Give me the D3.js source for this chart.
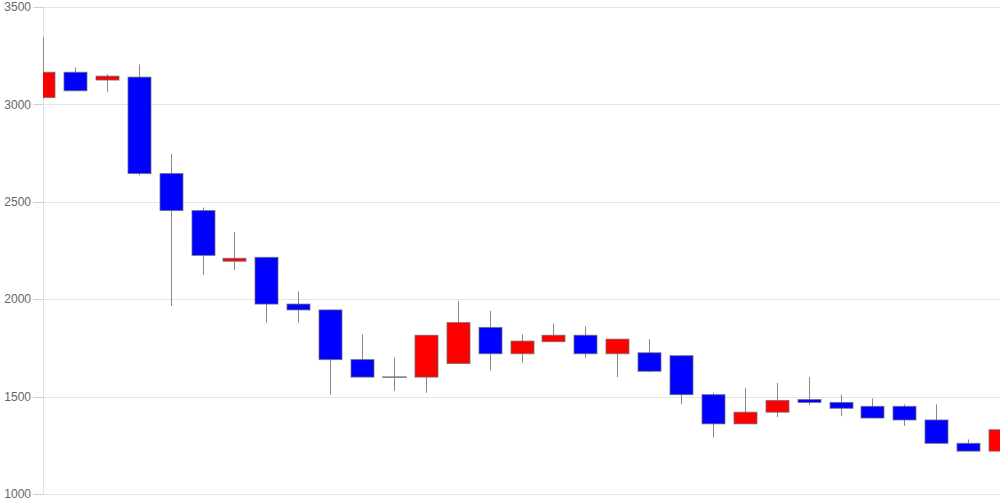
<!DOCTYPE html>
<html><head><meta charset="utf-8">
<script src="https://cdn.jsdelivr.net/npm/d3@7"></script>
<style>body{margin:0;background:#fff}svg{display:block}</style>
</head><body>
<svg id="c" width="1000" height="500"></svg>
<script>
const opens  = [3035,3165,3125,3140,2645,2455,2195,2215,1975,1945,1690,1600,1600,1670,1855,1720,1782,1815,1720,1725,1710,1510,1360,1420,1485,1470,1450,1450,1380,1260,1220];
const closes = [3165,3070,3145,2645,2455,2225,2210,1975,1945,1690,1600,1600,1815,1880,1720,1785,1815,1720,1795,1630,1510,1360,1420,1480,1470,1440,1390,1380,1260,1220,1330];
const highs  = [3345,3190,3155,3205,2745,2470,2345,2215,2040,1945,1820,1700,1815,1990,1940,1820,1875,1860,1795,1795,1710,1520,1545,1570,1600,1510,1490,1460,1460,1280,1350];
const lows   = [3030,3070,3065,2635,1965,2125,2150,1880,1880,1510,1600,1530,1520,1670,1635,1675,1780,1700,1600,1625,1460,1290,1360,1395,1455,1400,1390,1350,1260,1220,1220];
const yTicks = [1000,1500,2000,2500,3000,3500];

(function () {
const idx = d3.range(opens.length);
const svg = d3.select("#c");
const mL = 43, mR = 1000, mT = 7, mB = 494;
const x = d3.scalePoint().domain(idx).range([mL, mR]);
const y = d3.scaleLinear().domain([1000, 3500]).range([mB, mT]);

svg.append("g").selectAll("line").data(yTicks).join("line")
  .attr("x1", 33).attr("x2", mR).attr("y1", d => Math.round(y(d)) + 0.5).attr("y2", d => Math.round(y(d)) + 0.5)
  .attr("stroke", "#e6e6e6");
svg.append("g").selectAll("line").data(yTicks).join("line")
  .attr("x1", 33).attr("x2", mL).attr("y1", d => Math.round(y(d)) + 0.5).attr("y2", d => Math.round(y(d)) + 0.5)
  .attr("stroke", "#d0d0d0");
svg.append("line").attr("x1", mL + 0.5).attr("x2", mL + 0.5).attr("y1", mT).attr("y2", mB)
  .attr("stroke", "#e0e0e0");
svg.append("g").selectAll("text").data(yTicks).join("text")
  .attr("x", 31).attr("y", d => y(d)).attr("dy", "0.35em").attr("text-anchor", "end")
  .attr("font-family", "Liberation Sans, Arial, sans-serif").attr("font-size", 12).attr("fill", "#666")
  .text(d => d);

svg.append("defs").append("clipPath").attr("id", "clip").append("rect")
  .attr("x", mL).attr("y", 0).attr("width", mR - mL).attr("height", 500);

const g = svg.append("g").attr("clip-path", "url(#clip)");
const bw = 23;
g.selectAll("line.w").data(idx).join("line").attr("class", "w")
  .attr("x1", i => Math.round(x(i)) + 0.5).attr("x2", i => Math.round(x(i)) + 0.5)
  .attr("y1", i => y(highs[i])).attr("y2", i => y(lows[i]))
  .attr("stroke", "#888").attr("stroke-width", 1);
g.selectAll("rect.b").data(idx).join("rect").attr("class", "b")
  .attr("x", i => Math.round(x(i)) - bw / 2 + 0.5)
  .attr("width", bw)
  .attr("y", i => y(Math.max(opens[i], closes[i])))
  .attr("height", i => Math.max(0.01, Math.abs(y(opens[i]) - y(closes[i]))))
  .attr("fill", i => closes[i] > opens[i] ? "#ff0000" : "#0000ff")
  .attr("stroke", i => opens[i] === closes[i] ? "#777" : "rgba(110,110,110,0.75)")
  .attr("stroke-width", i => opens[i] === closes[i] ? 1.5 : 1);
})();
</script>
</body></html>
